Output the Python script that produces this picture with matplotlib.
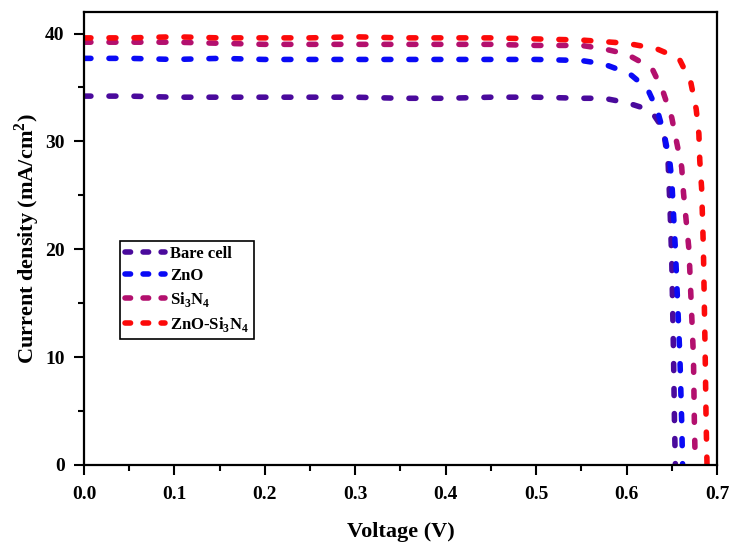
import matplotlib
matplotlib.use("Agg")
import matplotlib.pyplot as plt
from matplotlib.ticker import MultipleLocator

plt.rcParams["font.family"] = ["Liberation Serif", "DejaVu Serif"]
plt.rcParams["font.weight"] = "bold"
plt.rcParams["mathtext.fontset"] = "custom"
plt.rcParams["mathtext.rm"] = "Liberation Serif:bold"
plt.rcParams["mathtext.bf"] = "Liberation Serif:bold"
plt.rcParams["lines.scale_dashes"] = False

# J-V curves (V in volts, J in mA/cm2)
bare_v = [0.0, 0.05, 0.1, 0.15, 0.2, 0.25, 0.3, 0.35, 0.4, 0.45, 0.5, 0.55,
          0.575, 0.6, 0.615, 0.629, 0.637, 0.642, 0.646, 0.648, 0.650, 0.652,
          0.653, 0.654]
bare_j = [34.2, 34.2, 34.1, 34.1, 34.1, 34.1, 34.1, 34.0, 34.0, 34.1, 34.1,
          34.0, 34.0, 33.6, 33.2, 32.6, 31.6, 30.4, 28.0, 24.0, 19.0, 10.0,
          4.0, 0.0]

zno_v = [0.0, 0.05, 0.1, 0.15, 0.2, 0.25, 0.3, 0.35, 0.4, 0.45, 0.5, 0.55,
         0.574, 0.603, 0.623, 0.634, 0.642, 0.648, 0.650, 0.654, 0.659,
         0.661, 0.662]
zno_j = [37.7, 37.7, 37.6, 37.7, 37.6, 37.6, 37.6, 37.6, 37.6, 37.6, 37.6,
         37.5, 37.2, 36.3, 34.9, 32.9, 30.5, 28.0, 26.4, 20.0, 10.0, 4.0, 0.0]

si_v = [0.0, 0.05, 0.1, 0.15, 0.2, 0.25, 0.3, 0.35, 0.4, 0.45, 0.5, 0.55,
        0.574, 0.600, 0.628, 0.640, 0.650, 0.655, 0.661, 0.663, 0.669, 0.674,
        0.675, 0.676]
si_j = [39.2, 39.2, 39.2, 39.1, 39.0, 39.0, 39.0, 39.0, 39.0, 39.0, 38.9,
        38.9, 38.6, 38.1, 36.8, 34.7, 32.2, 30.1, 27.6, 25.2, 20.0, 10.0,
        4.0, 0.0]

combo_v = [0.0, 0.05, 0.1, 0.15, 0.2, 0.25, 0.3, 0.35, 0.4, 0.45, 0.5, 0.55,
           0.6, 0.633, 0.658, 0.671, 0.677, 0.680, 0.681, 0.683, 0.685, 0.687,
           0.688, 0.689]
combo_j = [39.6, 39.6, 39.7, 39.6, 39.6, 39.6, 39.7, 39.6, 39.6, 39.6, 39.5,
           39.4, 39.1, 38.6, 37.7, 35.5, 33.0, 30.7, 28.2, 25.7, 20.0, 10.0,
           4.0, 0.0]

series = [
    ("Bare cell", bare_v, bare_j, "#4a0a9c"),
    ("ZnO", zno_v, zno_j, "#0a0af5"),
    ("Si$_3$N$_4$", si_v, si_j, "#b3106e"),
    ("ZnO-Si$_3$N$_4$", combo_v, combo_j, "#fc0a0a"),
]

fig = plt.figure(figsize=(7.29, 5.45), dpi=100)
ax = fig.add_axes([0.1152, 0.1468, 0.8683, 0.8312])

for label, v, j, color in series:
    ax.plot(v, j, color=color, lw=4.0, dashes=(5.0, 13.0),
            dash_capstyle="round", solid_capstyle="round", label=label)

ax.set_xlim(0, 0.7)
ax.set_ylim(0, 42)
ax.xaxis.set_major_locator(MultipleLocator(0.1))
ax.xaxis.set_minor_locator(MultipleLocator(0.05))
ax.yaxis.set_major_locator(MultipleLocator(10))
ax.yaxis.set_minor_locator(MultipleLocator(5))
ax.tick_params(which="major", direction="out", length=7, width=1.5,
               labelsize=14)
ax.tick_params(axis="x", which="major", pad=8)
ax.tick_params(axis="y", which="major", pad=7)
ax.tick_params(which="minor", direction="out", length=4, width=1.5)
for sp in ax.spines.values():
    sp.set_linewidth(1.6)

ax.set_xlabel("Voltage (V)", fontsize=16, fontweight="bold", labelpad=14)
ax.set_ylabel("Current density (mA/cm$^2$)", fontsize=16,
              fontweight="bold", labelpad=2)

leg = ax.legend(loc="upper left", bbox_to_anchor=(0.057, 0.494),
                fontsize=12, handlelength=2.4, handletextpad=0.3,
                labelspacing=0.35, borderpad=0.3, borderaxespad=0,
                frameon=True, fancybox=False, edgecolor="black",
                framealpha=1)
leg.get_frame().set_linewidth(1.2)
leg._legend_box.sep = 0
for h in leg.get_lines():
    h.set_dashes((4.0, 9.0))

fig.savefig("out.png", dpi=100)
